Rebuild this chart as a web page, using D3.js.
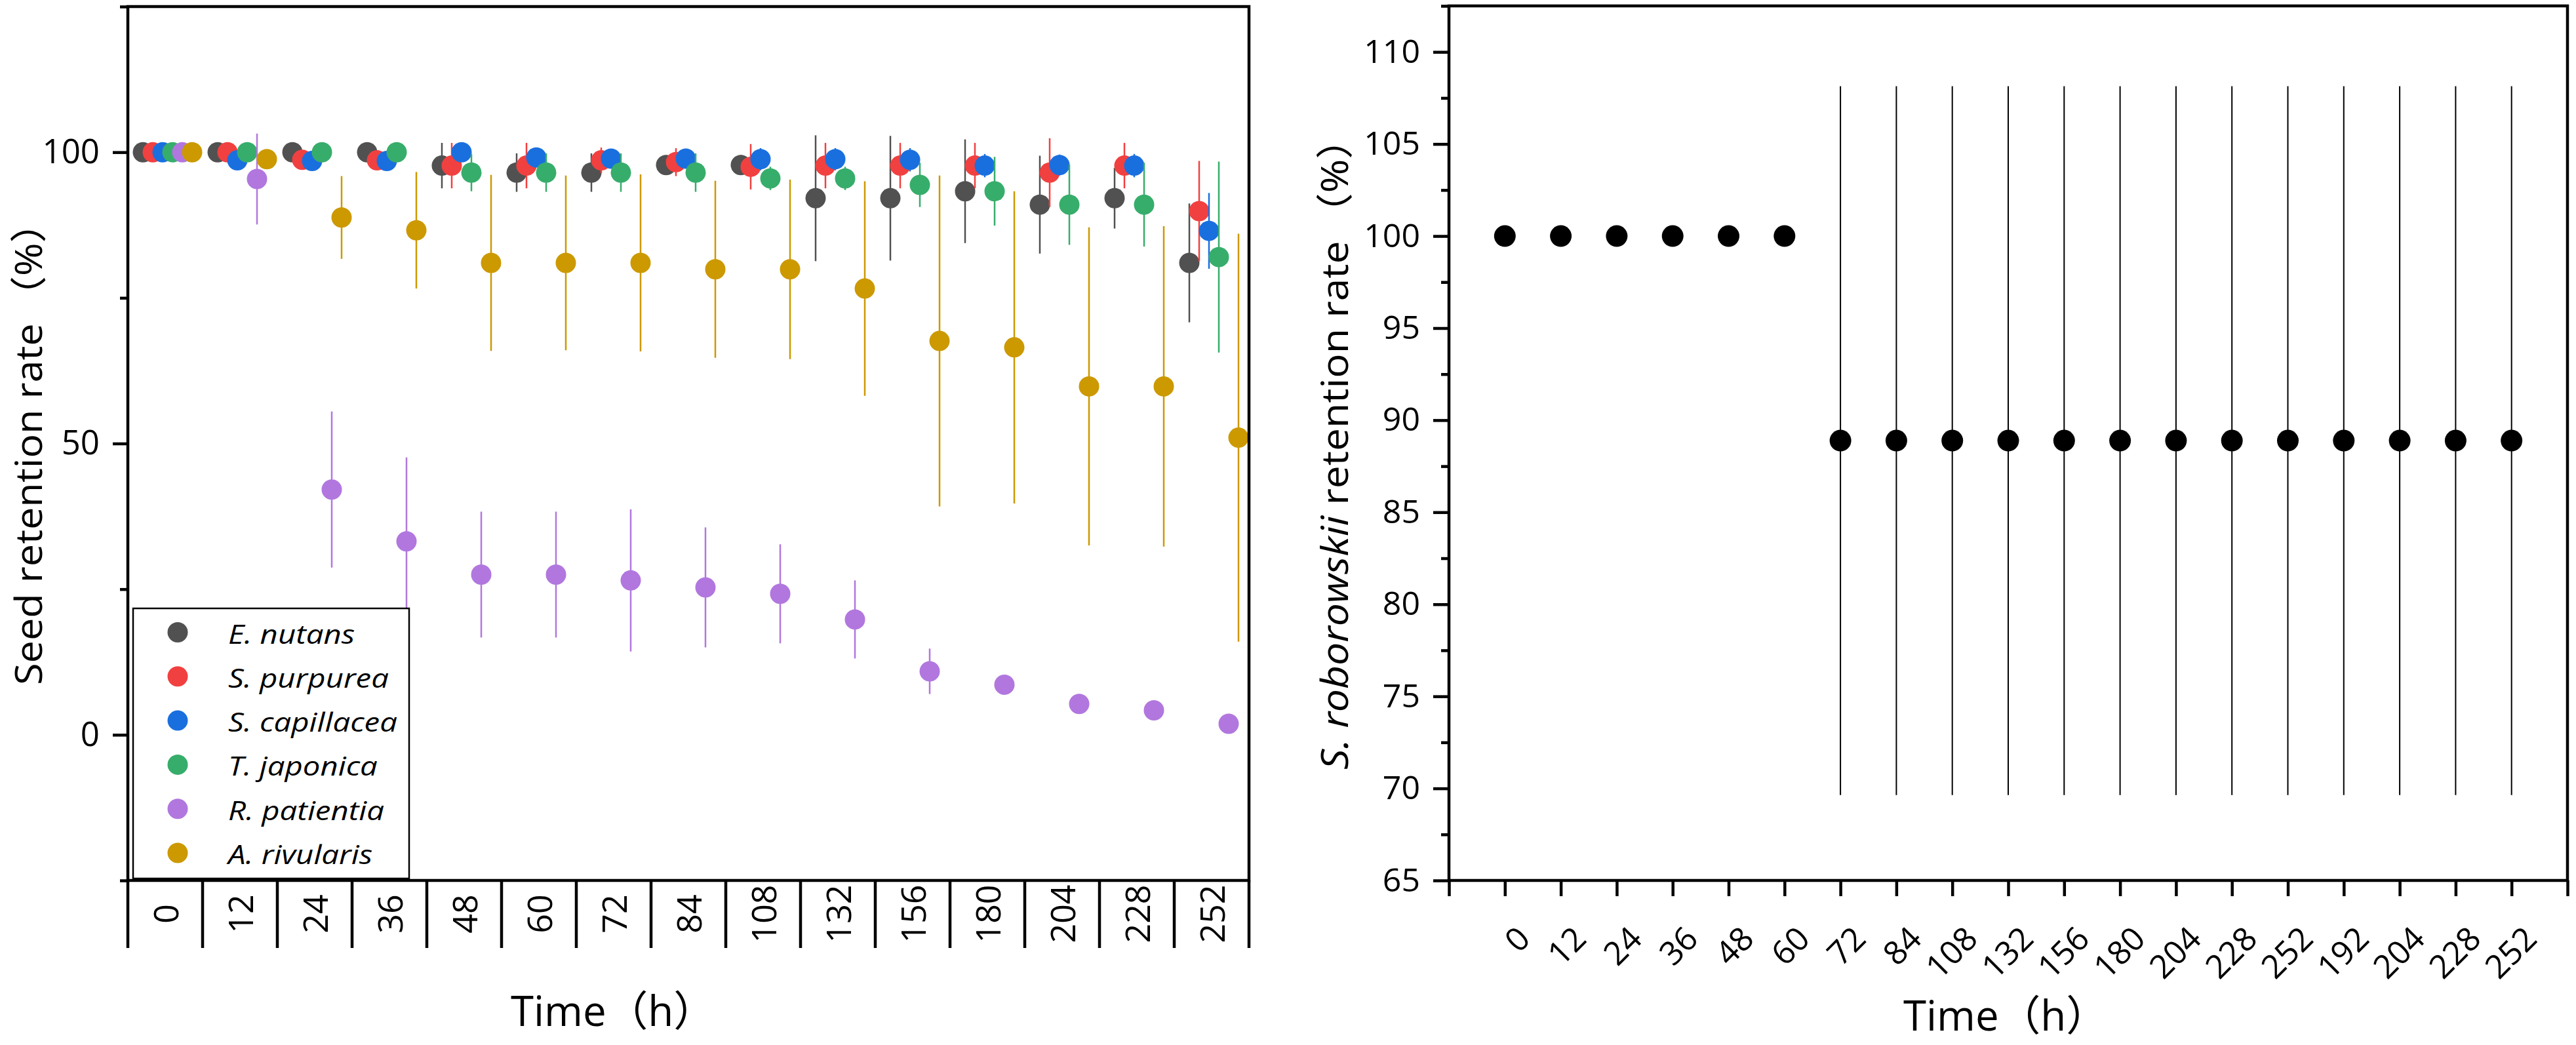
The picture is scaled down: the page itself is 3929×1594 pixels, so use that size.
<!DOCTYPE html>
<html><head><meta charset="utf-8">
<script src="https://cdn.jsdelivr.net/npm/d3@7"></script>
<style>
html,body{margin:0;padding:0;background:#fff;}
text{font-family:'Open Sans','Noto Sans CJK SC',sans-serif;fill:#000;}
</style></head>
<body>
<svg id="chart" width="3929" height="1594"></svg>
<script>
// ---------- Left panel data ----------
const timesLeft = ["0","12","24","36","48","60","72","84","108","132","156","180","204","228","252"];
const seriesNames = ["E. nutans","S. purpurea","S. capillacea","T. japonica","R. patientia","A. rivularis"];
const seriesColors = ["#515151","#F14040","#1A6FDF","#37AD6B","#B177DE","#CC9900"];
const eNutansMean   = [100,100,100,100,97.7,96.5,96.5,97.8,97.8,92.1,92.1,93.3,91.0,92.1,81.0];
const eNutansErr    = [0,0,0,0,3.9,3.3,3.3,1.5,1.7,10.8,10.7,8.9,8.4,5.2,10.2];
const sPurpureaMean = [100,100,98.7,98.6,97.7,97.7,98.6,98.3,97.5,97.7,97.7,97.7,96.5,97.7,89.9];
const sPurpureaErr  = [0,0,0,0,3.9,3.9,2.2,2.4,3.9,3.9,3.9,3.9,5.9,3.9,8.6];
const sCapillaceaMean=[100,98.6,98.5,98.5,100,99.1,98.9,98.9,98.8,98.8,98.7,97.7,97.8,97.7,86.5];
const sCapillaceaErr =[0,0,0,0,1.5,1.5,1.5,1.7,1.9,1.9,2.0,2.0,1.8,2.0,6.5];
const tJaponicaMean = [100,100,100,100,96.5,96.5,96.5,96.5,95.5,95.5,94.4,93.3,91.0,91.0,82.0];
const tJaponicaErr  = [0,0,0,0,3.2,3.3,3.3,3.3,2.0,2.0,3.8,5.9,6.9,7.2,16.4];
const rPatientiaMean= [100,95.4,42.1,33.2,27.5,27.5,26.5,25.3,24.2,19.8,10.9,8.6,5.3,4.2,1.9];
const rPatientiaErr = [0,7.8,13.4,14.4,10.8,10.8,12.2,10.3,8.5,6.7,3.9,0.5,0.3,0.3,0.3];
const aRivularisMean= [100,98.8,88.8,86.6,81.0,81.0,81.0,79.9,79.9,76.6,67.6,66.5,59.8,59.8,51.0];
const aRivularisErr = [0,0,7.1,10.0,15.1,15.0,15.2,15.2,15.4,18.4,28.4,26.8,27.3,27.5,35.0];
const yTicksLeft = [0,50,100];
const yMinorLeft = [-25,25,75,125];

// ---------- Right panel data ----------
const timesRight = ["0","12","24","36","48","60","72","84","108","132","156","180","204","228","252","192","204","228","252"];
const roborowskiiMean = [100,100,100,100,100,100,88.89,88.89,88.89,88.89,88.89,88.89,88.89,88.89,88.89,88.89,88.89,88.89,88.89];
const roborowskiiErr  = [0,0,0,0,0,0,19.25,19.25,19.25,19.25,19.25,19.25,19.25,19.25,19.25,19.25,19.25,19.25,19.25];
const yTicksRight = [65,70,75,80,85,90,95,100,105,110];

const leftSeries = [
  {m:eNutansMean,e:eNutansErr},{m:sPurpureaMean,e:sPurpureaErr},{m:sCapillaceaMean,e:sCapillaceaErr},
  {m:tJaponicaMean,e:tJaponicaErr},{m:rPatientiaMean,e:rPatientiaErr},{m:aRivularisMean,e:aRivularisErr}
];

const svg = d3.select("#chart");
svg.append("rect").attr("width",3929).attr("height",1594).attr("fill","#fff");
const AX = 4.5;

function fitSize(sel, base, target){
  sel.attr("font-size", base);
  const len = sel.node().getComputedTextLength();
  if (len > 0) sel.attr("font-size", base * target / len);
}
// stretch factor along the text direction so its advance equals target
function stretchFor(sel, target, fallback){
  const len = sel.node().getComputedTextLength();
  return len > 0 ? target/len : fallback;
}

// ================= LEFT PANEL =================
const L = {x0:195,x1:1905,y0:10,y1:1343};
const xL = d3.scaleBand().domain(timesLeft).range([L.x0,L.x1]);
const yL = d3.scaleLinear().domain([-25,125]).range([L.y1,L.y0]);
const offsets = [-34,-19,-4,11,26,41];
const gL = svg.append("g");

leftSeries.forEach((s,si)=>{
  const g = gL.append("g");
  const pts = timesLeft.map((t,i)=>({x:xL(t)+xL.bandwidth()/2+offsets[si], m:s.m[i], e:s.e[i]}));
  g.selectAll("line.err").data(pts.filter(d=>d.e>0)).join("line")
    .attr("x1",d=>d.x).attr("x2",d=>d.x)
    .attr("y1",d=>yL(d.m+d.e)).attr("y2",d=>yL(d.m-d.e))
    .attr("stroke",seriesColors[si]).attr("stroke-width",2.5);
  g.selectAll("circle").data(pts).join("circle")
    .attr("cx",d=>d.x).attr("cy",d=>yL(d.m)).attr("r",15.5)
    .attr("fill",seriesColors[si]);
});

// legend
const lg = gL.append("g");
lg.append("rect").attr("x",203).attr("y",928).attr("width",421).attr("height",412)
  .attr("fill","#fff").attr("stroke","#000").attr("stroke-width",2.5);
const legTexts = [];
seriesNames.forEach((n,i)=>{
  const cy = 964.5 + i*67.3;
  lg.append("circle").attr("cx",271).attr("cy",cy).attr("r",15.5).attr("fill",seriesColors[i]);
  legTexts.push(lg.append("text").attr("data-y",cy+17)
    .attr("font-size",41).attr("font-style","italic").text(n));
});
const legSX = stretchFor(legTexts[2], 258, 1.17);
legTexts.forEach(t=>t.attr("transform",`translate(348,${t.attr("data-y")}) scale(${legSX},1)`));

// y axis
const yAxL = d3.axisLeft(yL).tickValues(yTicksLeft).tickSize(23).tickPadding(20).tickFormat(d3.format("d"));
const yAxLg = gL.append("g").attr("transform",`translate(${L.x0},0)`).call(yAxL);
yAxLg.select(".domain").remove();
yAxLg.selectAll(".tick line").attr("stroke","#000").attr("stroke-width",AX);
yAxLg.selectAll(".tick text").attr("font-size",51).attr("font-family","'Open Sans',sans-serif");
const yMinL = gL.append("g").attr("transform",`translate(${L.x0},0)`)
  .call(d3.axisLeft(yL).tickValues(yMinorLeft).tickSize(12).tickFormat(""));
yMinL.select(".domain").remove();
yMinL.selectAll(".tick line").attr("stroke","#000").attr("stroke-width",AX);

// x axis (categories in boxes)
const xAxL = d3.axisBottom(xL).tickSize(0).tickPadding(0);
const xAxLg = gL.append("g").attr("transform",`translate(0,${L.y1})`).call(xAxL);
xAxLg.select(".domain").remove();
xAxLg.selectAll(".tick text").attr("font-size",52).attr("font-family","'Open Sans',sans-serif")
  .attr("transform","translate(2,51) rotate(-90)").attr("dy","0.35em").attr("y",0).attr("x",0)
  .attr("text-anchor","middle");
const bounds = timesLeft.map(t=>xL(t)).concat([L.x1]);
gL.selectAll("line.sep").data(bounds).join("line")
  .attr("x1",d=>d).attr("x2",d=>d).attr("y1",L.y1).attr("y2",1446)
  .attr("stroke","#000").attr("stroke-width",AX);

// frame
gL.append("path").attr("d",`M${L.x0},${L.y1}V${L.y0}H${L.x1}V${L.y1}H${L.x0}`)
  .attr("fill","none").attr("stroke","#000").attr("stroke-width",AX);

// titles
const tL = gL.append("text").attr("x",779).attr("y",1565).text("Time（h）");
fitSize(tL, 63, 312);
const ylL = gL.append("text").attr("text-anchor","start").attr("font-size",56);
ylL.append("tspan").text("Seed retention rate");
ylL.append("tspan").attr("dx",10).text("（%）");
const sL = stretchFor(ylL, 725, 1.1);
ylL.attr("transform",`translate(64,1045) rotate(-90) scale(${sL},1)`);

// ================= RIGHT PANEL =================
const R = {x0:2210,x1:3916,y0:9,y1:1343};
const xR = d3.scaleLinear().domain([0,20]).range([R.x0,R.x1]);
const yR = d3.scaleLinear().domain([65,112.5]).range([R.y1,R.y0]);
const gR = svg.append("g");
const ptsR = timesRight.map((t,i)=>({i:i+1,m:roborowskiiMean[i],e:roborowskiiErr[i]}));
gR.selectAll("line.err").data(ptsR.filter(d=>d.e>0)).join("line")
  .attr("x1",d=>xR(d.i)).attr("x2",d=>xR(d.i))
  .attr("y1",d=>yR(d.m+d.e)).attr("y2",d=>yR(d.m-d.e))
  .attr("stroke","#000").attr("stroke-width",2);
gR.selectAll("circle").data(ptsR).join("circle")
  .attr("cx",d=>xR(d.i)).attr("cy",d=>yR(d.m)).attr("r",16.5).attr("fill","#000");

const yAxR = gR.append("g").attr("transform",`translate(${R.x0},0)`)
  .call(d3.axisLeft(yR).tickValues(yTicksRight).tickSize(24).tickPadding(20));
yAxR.select(".domain").remove();
yAxR.selectAll(".tick line").attr("stroke","#000").attr("stroke-width",AX);
yAxR.selectAll(".tick text").attr("font-size",50).attr("font-family","'Open Sans',sans-serif");
const yMinR = gR.append("g").attr("transform",`translate(${R.x0},0)`)
  .call(d3.axisLeft(yR).tickValues(yTicksRight.map(v=>v+2.5)).tickSize(12).tickFormat(""));
yMinR.select(".domain").remove();
yMinR.selectAll(".tick line").attr("stroke","#000").attr("stroke-width",AX);

const xAxR = gR.append("g").attr("transform",`translate(0,${R.y1})`)
  .call(d3.axisBottom(xR).ticks(20).tickSize(24).tickFormat(d=>(d>=1&&d<=19)?timesRight[d-1]:""));
xAxR.select(".domain").remove();
xAxR.selectAll(".tick line").attr("stroke","#000").attr("stroke-width",AX);
xAxR.selectAll(".tick text").attr("font-size",50).attr("font-family","'Open Sans',sans-serif")
  .attr("text-anchor","end").attr("dy",0).attr("y",0)
  .attr("transform","translate(41,92) rotate(-45)");

gR.append("path").attr("d",`M${R.x0},${R.y1}V${R.y0}H${R.x1}V${R.y1}H${R.x0}`)
  .attr("fill","none").attr("stroke","#000").attr("stroke-width",AX);

const tR = gR.append("text").attr("x",2903).attr("y",1572).text("Time（h）");
fitSize(tR, 63, 312);
const yt = gR.append("text").attr("text-anchor","start").attr("font-size",57);
yt.append("tspan").attr("font-style","italic").text("S. roborowskii");
yt.append("tspan").text(" retention rate");
yt.append("tspan").attr("dx",10).text("（%）");
const sR = stretchFor(yt, 983, 1.1);
yt.attr("transform",`translate(2056,1174) rotate(-90) scale(${sR},1)`);
</script>
</body></html>
